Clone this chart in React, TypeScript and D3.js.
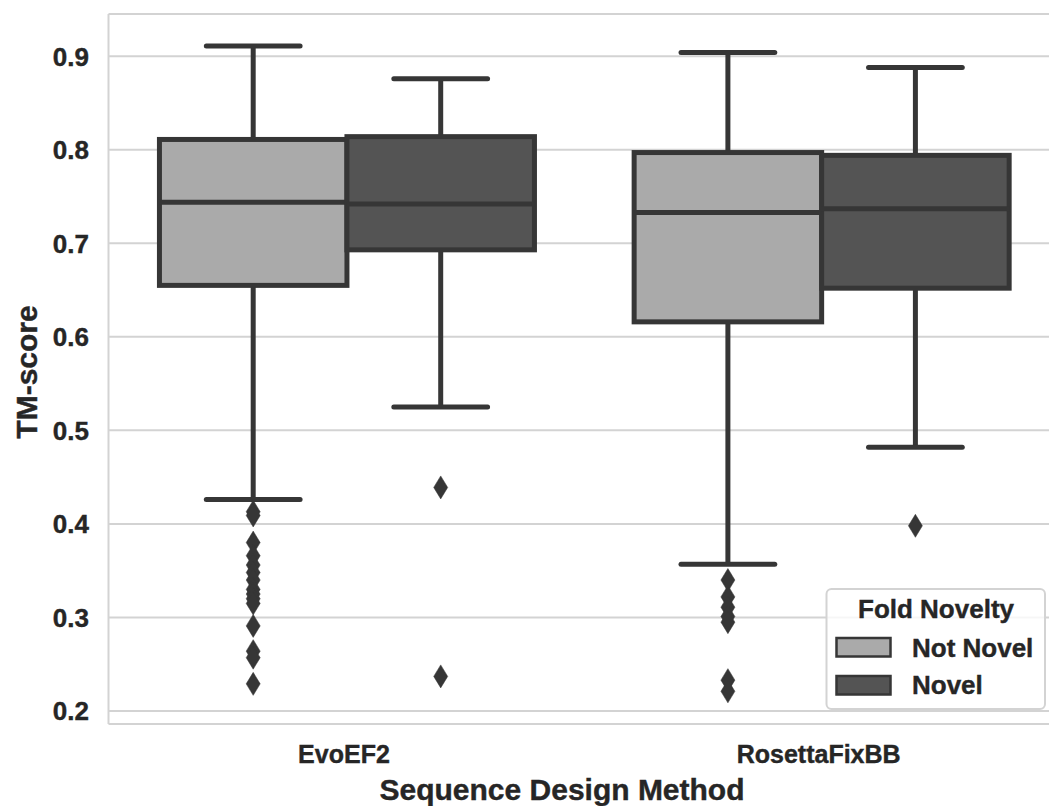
import React from "react";
import * as d3 from "d3";

const categories = ["EvoEF2", "RosettaFixBB"];
const hues = ["Not Novel", "Novel"];
const hueFill = ["#aaaaaa", "#545454"];
// [lowWhisker, Q1, median, Q3, highWhisker] per category
const notNovelBox = [
  [0.426, 0.655, 0.744, 0.811, 0.911],
  [0.357, 0.616, 0.733, 0.797, 0.904],
];
const novelBox = [
  [0.525, 0.693, 0.742, 0.814, 0.876],
  [0.482, 0.652, 0.737, 0.794, 0.888],
];
const notNovelOutliers = [
  [0.413, 0.409, 0.38, 0.366, 0.356, 0.348, 0.34, 0.33, 0.325, 0.32, 0.315, 0.291, 0.264, 0.257, 0.229],
  [0.34, 0.322, 0.311, 0.301, 0.295, 0.233, 0.221],
];
const novelOutliers = [
  [0.439, 0.237],
  [0.398],
];
const yTicks = [0.2, 0.3, 0.4, 0.5, 0.6, 0.7, 0.8, 0.9];

const W = 1049;
const H = 806;
const FONT = "'Liberation Sans', Arial, Helvetica, sans-serif";
const TXT = "#262626";
const EDGE = "#363636";
const GRID = "#d3d3d3";

function T(props: any) {
  const { x, y, size, anchor = "start", rotate = 0, children, dy } = props;
  return (
    <text
      transform={`translate(${x},${y}) rotate(${rotate})`}
      fontFamily={FONT}
      fontWeight="bold"
      fontSize={size}
      fill={TXT}
      stroke={TXT}
      strokeWidth={0.4}
      textAnchor={anchor}
      dy={dy}
    >
      {children}
    </text>
  );
}

export default function App() {
  const left = 108.5;
  const top = 14;
  const bottom = 724;
  const x = d3.scaleBand<string>().domain(categories).range([109.6, 1059]).padding(0);
  const y = d3.scaleLinear().domain([0.2, 0.9]).range([711, 56.2]);
  const bw = x.bandwidth();
  const hueScale = d3.scaleBand<string>().domain(hues).range([-bw * 0.395, bw * 0.395]).padding(0);
  const boxW = hueScale.bandwidth();

  const series = [
    { box: notNovelBox, out: notNovelOutliers },
    { box: novelBox, out: novelOutliers },
  ];

  const diamond = (cx: number, cy: number) =>
    `M${cx},${cy - 11.5}L${cx + 7},${cy}L${cx},${cy + 11.5}L${cx - 7},${cy}Z`;

  return (
    <svg
      width={W}
      height={H}
      style={{ position: "absolute", left: 0, top: 0, background: "#fff" }}
    >
      {/* grid */}
      {yTicks.map((t) => (
        <line key={t} x1={left} x2={1059} y1={y(t)} y2={y(t)} stroke={GRID} strokeWidth={2} />
      ))}
      {/* frame */}
      <line x1={left} x2={1059} y1={top} y2={top} stroke={GRID} strokeWidth={2} />
      <line x1={left} x2={1059} y1={bottom} y2={bottom} stroke={GRID} strokeWidth={2} />
      <line x1={left} x2={left} y1={top} y2={bottom} stroke={GRID} strokeWidth={2} />

      {/* boxes */}
      {series.map((s, hi) =>
        categories.map((c, ci) => {
          const [lo, q1, med, q3, hiW] = s.box[ci];
          const x0 = (x(c) as number) + bw / 2 + (hueScale(hues[hi]) as number);
          const cx = x0 + boxW / 2;
          return (
            <g key={`${hi}-${ci}`}>
              <line x1={cx} x2={cx} y1={y(q3)} y2={y(hiW)} stroke={EDGE} strokeWidth={5} />
              <line x1={cx} x2={cx} y1={y(q1)} y2={y(lo)} stroke={EDGE} strokeWidth={5} />
              <line x1={cx - boxW / 4} x2={cx + boxW / 4} y1={y(hiW)} y2={y(hiW)} stroke={EDGE} strokeWidth={5} strokeLinecap="round" />
              <line x1={cx - boxW / 4} x2={cx + boxW / 4} y1={y(lo)} y2={y(lo)} stroke={EDGE} strokeWidth={5} strokeLinecap="round" />
              <rect x={x0} y={y(q3)} width={boxW} height={y(q1) - y(q3)} fill={hueFill[hi]} stroke={EDGE} strokeWidth={5} />
              <line x1={x0} x2={x0 + boxW} y1={y(med)} y2={y(med)} stroke={EDGE} strokeWidth={5} />
              {s.out[ci].map((v, k) => (
                <path key={k} d={diamond(cx, y(v))} fill={EDGE} stroke={EDGE} strokeWidth={0.5} />
              ))}
            </g>
          );
        })
      )}

      {/* y ticks */}
      {yTicks.map((t) => (
        <T key={t} x={89} y={y(t)} size={26} anchor="end" dy="0.36em">
          {d3.format(".1f")(t)}
        </T>
      ))}
      {/* x ticks */}
      {categories.map((c) => (
        <T key={c} x={(x(c) as number) + bw / 2 - 3} y={762.5} size={25} anchor="middle">
          {c}
        </T>
      ))}
      <T x={562} y={800} size={30} anchor="middle">
        Sequence Design Method
      </T>
      <T x={37} y={372} size={30} anchor="middle" rotate={-90}>
        TM-score
      </T>

      {/* legend */}
      <g>
        <rect x={826.5} y={589} width={218.5} height={120} rx={5} fill="#fff" fillOpacity={0.8} stroke="#d3d3d3" strokeWidth={2} />
        <T x={936} y={617.5} size={26} anchor="middle">
          Fold Novelty
        </T>
        {hues.map((h, i) => (
          <g key={h}>
            <rect x={836.5} y={638 + i * 38} width={54} height={18.5} fill={hueFill[i]} stroke={EDGE} strokeWidth={2.5} />
            <T x={912} y={657 + i * 36.5} size={26}>
              {h}
            </T>
          </g>
        ))}
      </g>
    </svg>
  );
}
